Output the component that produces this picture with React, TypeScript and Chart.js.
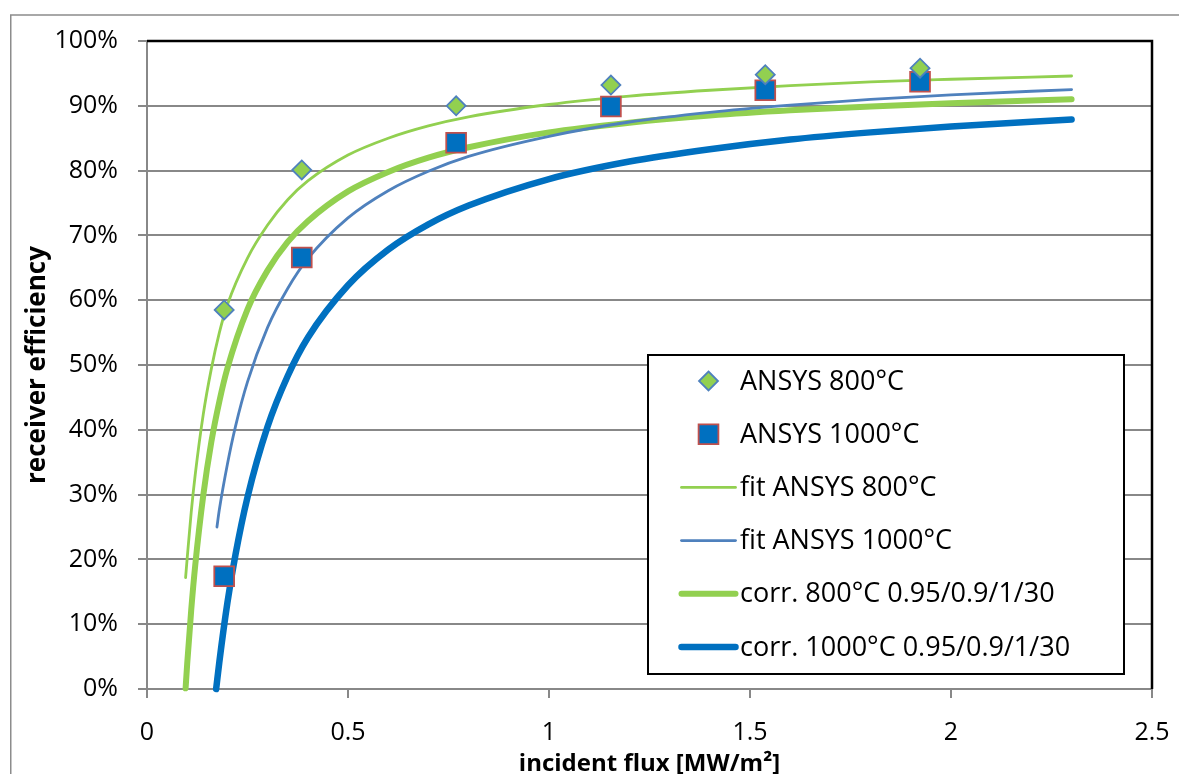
import React, { useEffect, useRef } from 'react';
import { Chart, registerables } from 'chart.js';

Chart.register(...registerables);

// ---- data ----
const ansysFlux = [0.192, 0.385, 0.769, 1.154, 1.538, 1.923];
const ansys800 = [58.5, 80.1, 90.0, 93.2, 94.8, 95.8];
const ansys1000 = [17.4, 66.6, 84.3, 89.9, 92.4, 93.7];

const fit800Flux = [0.096, 0.1, 0.11, 0.12, 0.14, 0.16, 0.18, 0.2, 0.25, 0.3, 0.35, 0.4, 0.5, 0.6, 0.7, 0.8, 1.0, 1.2, 1.4, 1.6, 1.8, 2.0, 2.3];
const fit800Eff = [17.2, 20.2, 27.3, 33.1, 42.4, 49.4, 55.0, 59.3, 66.5, 71.6, 75.5, 78.4, 82.4, 85.0, 86.9, 88.3, 90.2, 91.5, 92.4, 93.1, 93.7, 94.1, 94.6];

const fit1000Flux = [0.174, 0.18, 0.2, 0.22, 0.25, 0.3, 0.35, 0.4, 0.5, 0.6, 0.7, 0.8, 1.0, 1.2, 1.4, 1.6, 1.8, 2.0, 2.3];
const fit1000Eff = [25.0, 27.7, 34.7, 40.5, 47.4, 55.8, 61.8, 66.4, 72.7, 76.9, 79.9, 82.2, 85.3, 87.5, 89.0, 90.1, 91.0, 91.7, 92.5];

const corr800Flux = [0.096, 0.1, 0.11, 0.12, 0.14, 0.16, 0.18, 0.2, 0.25, 0.3, 0.35, 0.4, 0.5, 0.6, 0.7, 0.8, 1.0, 1.2, 1.4, 1.6, 1.8, 2.0, 2.3];
const corr800Eff = [0.1, 3.9, 12.2, 19.1, 29.9, 38.1, 44.4, 49.5, 58.6, 64.6, 69.0, 72.2, 76.8, 79.8, 82.0, 83.6, 85.9, 87.4, 88.5, 89.3, 89.9, 90.4, 91.0];

const corr1000Flux = [0.172, 0.18, 0.2, 0.22, 0.25, 0.3, 0.35, 0.4, 0.5, 0.6, 0.7, 0.8, 1.0, 1.2, 1.4, 1.6, 1.8, 2.0, 2.3];
const corr1000Eff = [0.0, 4.2, 13.3, 20.7, 29.6, 40.5, 48.3, 54.2, 62.3, 67.8, 71.7, 74.6, 78.7, 81.4, 83.3, 84.8, 85.9, 86.8, 87.9];

const xTickLabels = ['0', '0.5', '1', '1.5', '2', '2.5'];
const yTickLabels = ['0%', '10%', '20%', '30%', '40%', '50%', '60%', '70%', '80%', '90%', '100%'];

const seriesLabels = [
  'ANSYS 800°C',
  'ANSYS 1000°C',
  'fit ANSYS 800°C',
  'fit ANSYS 1000°C',
  'corr. 800°C 0.95/0.9/1/30',
  'corr. 1000°C 0.95/0.9/1/30',
];

const xTitle = 'incident flux [MW/m²]';
const yTitle = 'receiver efficiency';

// ---- styles ----
const GREEN = '#92D050';
const BLUE = '#4F81BD';
const DARKBLUE = '#0070C0';
const RED = '#C0504D';
const GRAY = '#888888';
const FONT = "'Open Sans', sans-serif";

const pts = (xs: number[], ys: number[]) => xs.map((x, i) => ({ x, y: ys[i] }));

function drawSymbol(ctx: CanvasRenderingContext2D, ds: any, cx: number, cy: number) {
  if (ds.showLine === false) {
    const r = ds.pointRadius;
    ctx.save();
    ctx.beginPath();
    if (ds.pointStyle === 'rectRot') {
      ctx.moveTo(cx, cy - r);
      ctx.lineTo(cx + r, cy);
      ctx.lineTo(cx, cy + r);
      ctx.lineTo(cx - r, cy);
      ctx.closePath();
    } else {
      const h = r * Math.SQRT1_2;
      ctx.rect(cx - h, cy - h, 2 * h, 2 * h);
    }
    ctx.fillStyle = ds.backgroundColor;
    ctx.fill();
    ctx.lineWidth = ds.pointBorderWidth;
    ctx.strokeStyle = ds.borderColor;
    ctx.stroke();
    ctx.restore();
  } else {
    ctx.save();
    ctx.beginPath();
    ctx.moveTo(cx - 27, cy);
    ctx.lineTo(cx + 27, cy);
    ctx.lineWidth = ds.borderWidth;
    ctx.strokeStyle = ds.borderColor;
    ctx.lineCap = 'round';
    ctx.stroke();
    ctx.restore();
  }
}

const decorPlugin = {
  id: 'decor',
  beforeDraw(chart: any) {
    const { ctx, width, height } = chart;
    ctx.save();
    ctx.fillStyle = '#ffffff';
    ctx.fillRect(0, 0, width, height);
    ctx.strokeStyle = '#8c8c8c';
    ctx.lineWidth = 1.5;
    ctx.beginPath();
    ctx.moveTo(10.75, height);
    ctx.lineTo(10.75, 15);
    ctx.lineTo(width, 15);
    ctx.stroke();
    ctx.restore();
  },
  afterDraw(chart: any) {
    const { ctx, chartArea } = chart;
    // plot-area frame (top & right)
    ctx.save();
    ctx.strokeStyle = '#000000';
    ctx.lineWidth = 2.5;
    ctx.beginPath();
    ctx.moveTo(chartArea.left, chartArea.top);
    ctx.lineTo(chartArea.right, chartArea.top);
    ctx.lineTo(chartArea.right, chartArea.bottom);
    ctx.stroke();
    ctx.restore();

    // legend box
    const bx = 648, by = 355, bw = 476, bh = 319;
    ctx.save();
    ctx.fillStyle = '#ffffff';
    ctx.fillRect(bx, by, bw, bh);
    ctx.strokeStyle = '#000000';
    ctx.lineWidth = 2;
    ctx.strokeRect(bx, by, bw, bh);
    const rowY0 = 381;
    const rowStep = 53.2;
    ctx.font = `27px ${FONT}`;
    ctx.fillStyle = '#000000';
    ctx.textBaseline = 'middle';
    ctx.textAlign = 'left';
    chart.data.datasets.forEach((ds: any, i: number) => {
      const cy = rowY0 + i * rowStep;
      drawSymbol(ctx, ds, 708.5, cy);
      ctx.fillText(ds.label, 740, cy + 1);
    });
    ctx.restore();
  },
};

export default function App() {
  const ref = useRef<HTMLCanvasElement>(null);

  useEffect(() => {
    document.body.style.margin = '0';
    const lineDs = (label: string, xs: number[], ys: number[], color: string, w: number) => ({
      label,
      data: pts(xs, ys),
      showLine: true,
      borderColor: color,
      backgroundColor: color,
      borderWidth: w,
      pointRadius: 0,
      pointHoverRadius: 0,
      cubicInterpolationMode: 'monotone',
      borderCapStyle: 'round',
      borderJoinStyle: 'round',
      clip: false,
    });
    const chart = new Chart(ref.current as HTMLCanvasElement, {
      type: 'scatter',
      data: {
        datasets: [
          {
            label: seriesLabels[0],
            data: pts(ansysFlux, ansys800),
            showLine: false,
            pointStyle: 'rectRot',
            pointRadius: 9.5,
            pointHoverRadius: 9.5,
            backgroundColor: GREEN,
            borderColor: BLUE,
            borderWidth: 1.8,
            pointBorderWidth: 1.8,
            clip: false,
          },
          {
            label: seriesLabels[1],
            data: pts(ansysFlux, ansys1000),
            showLine: false,
            pointStyle: 'rect',
            pointRadius: 14,
            pointHoverRadius: 14,
            backgroundColor: DARKBLUE,
            borderColor: RED,
            borderWidth: 1.8,
            pointBorderWidth: 1.8,
            clip: false,
          },
          lineDs(seriesLabels[2], fit800Flux, fit800Eff, GREEN, 2.8),
          lineDs(seriesLabels[3], fit1000Flux, fit1000Eff, BLUE, 2.8),
          lineDs(seriesLabels[4], corr800Flux, corr800Eff, GREEN, 6),
          lineDs(seriesLabels[5], corr1000Flux, corr1000Eff, DARKBLUE, 6.5),
        ] as any,
      },
      options: {
        responsive: false,
        animation: false,
        events: [],
        layout: { padding: { left: 0, top: 41, right: 27, bottom: 0 } },
        plugins: {
          legend: { display: false },
          tooltip: { enabled: false },
        },
        scales: {
          x: {
            type: 'linear',
            min: 0,
            max: 2.5,
            ticks: {
              stepSize: 0.5,
              maxRotation: 0,
              autoSkip: false,
              padding: 20,
              color: '#000000',
              font: { family: FONT, size: 25 },
              callback: (_v: any, i: number) => xTickLabels[i],
            },
            grid: { drawOnChartArea: false, drawTicks: true, tickLength: 9, color: GRAY, lineWidth: 2 },
            border: { display: true, color: GRAY, width: 2 },
            title: {
              display: true,
              text: xTitle,
              color: '#000000',
              font: { family: FONT, size: 24, weight: 'bold', lineHeight: '20px' },
              padding: { top: 0, bottom: 0 },
            },
            afterFit: (s: any) => {
              s.height = 85;
              s.paddingLeft = 0;
              s.paddingRight = 0;
            },
          },
          y: {
            type: 'linear',
            min: 0,
            max: 100,
            ticks: {
              stepSize: 10,
              padding: 20,
              color: '#000000',
              font: { family: FONT, size: 25 },
              callback: (_v: any, i: number) => yTickLabels[i],
            },
            grid: { color: GRAY, lineWidth: 2, tickLength: 9 },
            border: { display: true, color: GRAY, width: 2 },
            title: {
              display: true,
              text: yTitle,
              color: '#000000',
              font: { family: FONT, size: 26, weight: 'bold', lineHeight: '20px' },
              padding: { top: 28, bottom: 0 },
            },
            afterFit: (s: any) => {
              s.width = 147;
              s.paddingTop = 0;
              s.paddingBottom = 0;
            },
          },
        },
      } as any,
      plugins: [decorPlugin],
    });
    return () => chart.destroy();
  }, []);

  return (
    <div style={{ width: 1179, height: 774, position: 'relative' }}>
      <canvas ref={ref} width={1179} height={774} style={{ display: 'block', width: 1179, height: 774 }} />
    </div>
  );
}
